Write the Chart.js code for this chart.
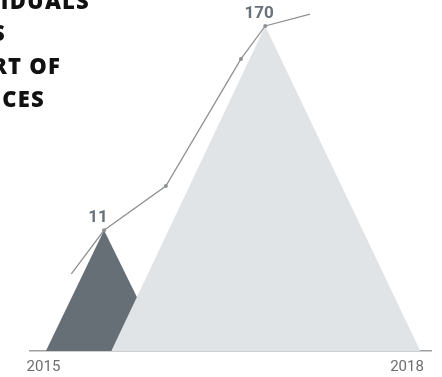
<!DOCTYPE html>
<html>
<head>
<meta charset="utf-8">
<script src="https://cdn.jsdelivr.net/npm/chart.js@4/dist/chart.umd.min.js"></script>
<style>
  body { margin: 0; background: #fff; }
  .wrap { position: relative; width: 442px; height: 377px; overflow: hidden; }
  .title div {
    position: absolute;
    white-space: nowrap;
    font: 800 22px "Open Sans", sans-serif;
    letter-spacing: 1.2px;
    line-height: 1;
    color: #111;
  }
</style>
</head>
<body>
<div class="wrap">
  <canvas id="chart" width="442" height="377"></canvas>
  <div class="title">
    <div style="right:352px; top:-11px">INDIVIDUALS</div>
    <div style="right:436px; top:21px">AND FAMILIES</div>
    <div style="right:381px; top:54px">AS PART OF</div>
    <div style="right:397px; top:87px">SERVICES</div>
  </div>
</div>
<script>
// data (heights are on a 0-100 index, the chart is stylised)
const tickYears = [2015, 2018];
const lineYears = [2015.23, 2015.5, 2016.01, 2016.63, 2016.83, 2017.2];
const lineHeights = [22, 34.4, 47, 83.2, 92.6, 96];
const peakIndex = [1, 4];
const peakLabels = ["11", "170"];
const peakStart = [2015.02, 2015.56];
const peakEnd = [2015.99, 2018.11];

const lineColor = "#8e9194";
const peakColors = ["#656f75", "#e1e4e7"];

// one triangle per peak, apex on the line point
function peakData(i) {
  const k = peakIndex[i];
  return [
    { x: peakStart[i], y: 0 },
    { x: lineYears[k], y: lineHeights[k] },
    { x: peakEnd[i], y: 0 },
  ];
}

const peakLabelPlugin = {
  id: "peakLabels",
  afterDatasetsDraw(chart) {
    const ctx = chart.ctx;
    const meta = chart.getDatasetMeta(0);
    ctx.save();
    ctx.font = "700 17px Roboto, sans-serif";
    ctx.fillStyle = "#69727a";
    ctx.textAlign = "center";
    ctx.textBaseline = "alphabetic";
    peakIndex.forEach((k, i) => {
      const pt = meta.data[k];
      ctx.fillText(peakLabels[i], pt.x - 6, pt.y - 8);
    });
    ctx.restore();
  },
};

new Chart(document.getElementById("chart"), {
  type: "line",
  data: {
    datasets: [
      {
        data: lineYears.map((x, i) => ({ x: x, y: lineHeights[i] })),
        borderColor: lineColor,
        borderWidth: 1.3,
        pointRadius: lineYears.map((x, i) => (i === 0 || i === lineYears.length - 1 ? 0 : 2)),
        pointBackgroundColor: lineColor,
        pointBorderWidth: 0,
        fill: false,
        tension: 0,
        order: 0,
        clip: false,
      },
      {
        data: peakData(1),
        backgroundColor: peakColors[1],
        borderWidth: 0,
        pointRadius: 0,
        fill: "origin",
        tension: 0,
        order: 1,
      },
      {
        data: peakData(0),
        backgroundColor: peakColors[0],
        borderWidth: 0,
        pointRadius: 0,
        fill: "origin",
        tension: 0,
        order: 2,
      },
    ],
  },
  options: {
    responsive: false,
    animation: false,
    layout: { padding: { left: 30, right: 11, top: 0, bottom: 0 } },
    plugins: {
      legend: { display: false },
      tooltip: { enabled: false },
    },
    scales: {
      x: {
        type: "linear",
        min: 2014.889,
        max: 2018.198,
        afterBuildTicks: (scale) => {
          scale.ticks = tickYears.map((v) => ({ value: v }));
        },
        afterFit: (scale) => {
          scale.height = 26;
        },
        grid: { display: false, drawTicks: false },
        border: { color: "#a0a0a0", width: 1.5 },
        ticks: {
          padding: 7,
          color: "#6e6e6e",
          font: { family: "Roboto", size: 15 },
          callback: (v) => String(v),
        },
      },
      y: {
        display: false,
        min: 0,
        max: 100,
      },
    },
  },
  plugins: [peakLabelPlugin],
});
</script>
</body>
</html>
